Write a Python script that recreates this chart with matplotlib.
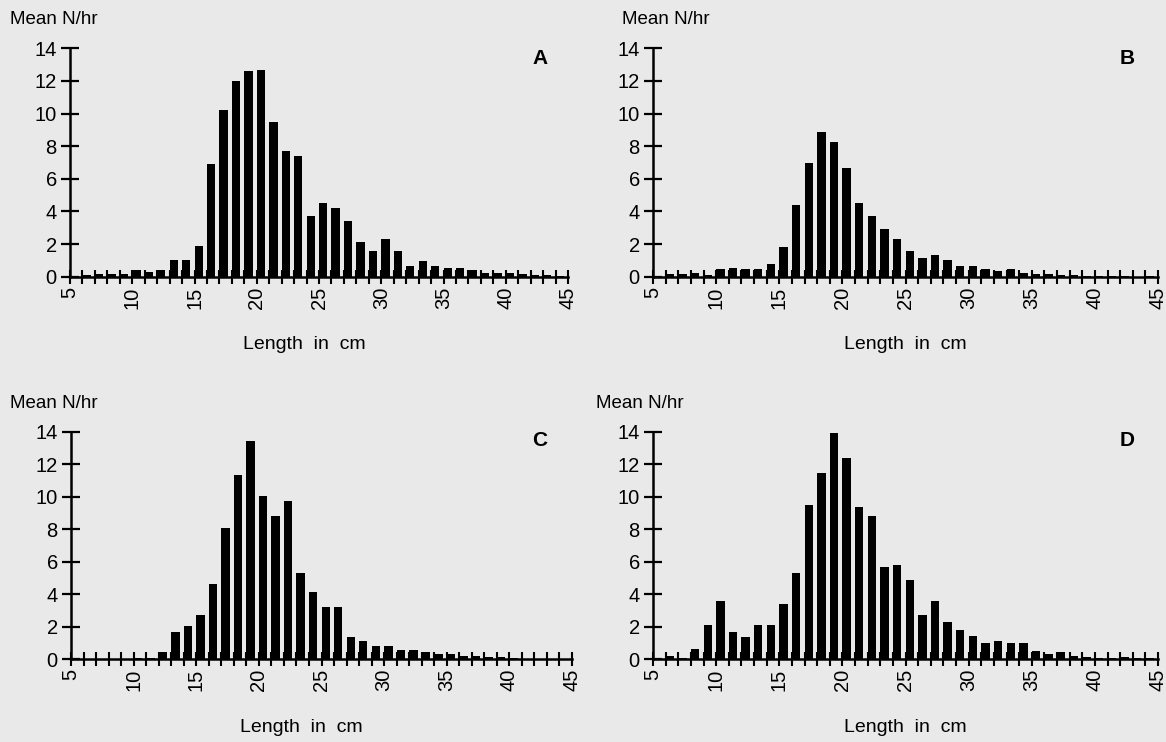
import numpy as np
import matplotlib.pyplot as plt

plt.rcParams['font.family'] = ['Liberation Sans', 'DejaVu Sans']

# length classes (cm), one bar per class
lengths = np.arange(6, 45)

catch_a = [0.1, 0.15, 0.15, 0.15, 0.4, 0.3, 0.4, 1.0, 1.0, 1.9,
           6.9, 10.2, 12.0, 12.6, 12.7, 9.5, 7.7, 7.4, 3.7, 4.5,
           4.2, 3.4, 2.1, 1.6, 2.3, 1.6, 0.65, 0.95, 0.65, 0.55,
           0.55, 0.4, 0.25, 0.2, 0.2, 0.15, 0.1, 0.1, 0.05]
catch_b = [0.15, 0.15, 0.25, 0.1, 0.45, 0.55, 0.45, 0.45, 0.8, 1.8,
           4.4, 7.0, 8.9, 8.25, 6.65, 4.5, 3.7, 2.9, 2.3, 1.6,
           1.15, 1.3, 1.0, 0.65, 0.65, 0.45, 0.35, 0.5, 0.25, 0.15,
           0.15, 0.1, 0.1, 0.05, 0.05, 0.05, 0.05, 0.0, 0.05]
catch_c = [0.0, 0.0, 0.0, 0.0, 0.1, 0.1, 0.45, 1.65, 2.05, 2.75,
           4.65, 8.1, 11.35, 13.4, 10.05, 8.8, 9.75, 5.3, 4.15, 3.2,
           3.2, 1.4, 1.1, 0.8, 0.8, 0.6, 0.6, 0.45, 0.35, 0.35,
           0.2, 0.2, 0.15, 0.15, 0.1, 0.0, 0.0, 0.0, 0.0]
catch_d = [0.2, 0.1, 0.65, 2.1, 3.6, 1.65, 1.4, 2.1, 2.1, 3.4,
           5.3, 9.5, 11.45, 13.95, 12.4, 9.35, 8.8, 5.65, 5.8, 4.9,
           2.75, 3.6, 2.3, 1.8, 1.45, 1.0, 1.15, 1.0, 1.0, 0.5,
           0.35, 0.45, 0.2, 0.15, 0.1, 0.05, 0.15, 0.05, 0.05]

panel_letters = ['A', 'B', 'C', 'D']
y_ticks = np.arange(0, 15, 2)
x_labels = np.arange(5, 46, 5)

W, H = 1166, 742
bg = '#e9e9e9'
fig = plt.figure(figsize=(W / 100, H / 100), dpi=100, facecolor=bg)

# axes boxes in pixels: left, right, y of zero, y of 14
boxes = [(70, 568, 276.7, 48.3), (653, 1158, 276.7, 48.3),
         (71, 572, 659.3, 431.7), (653, 1158, 659.3, 431.7)]
ylab_pos = [(10, 20), (622, 20), (10, 403), (596, 403)]
letter_pos = [(540, 58), (1127, 58), (540, 440), (1127, 440)]
xlab_x = [0.47, 0.5, 0.46, 0.5]

for i, vals in enumerate([catch_a, catch_b, catch_c, catch_d]):
    l, r, y0, y14 = boxes[i]
    ax = fig.add_axes([l / W, 1 - y0 / H, (r - l) / W, (y0 - y14) / H])
    ax.set_facecolor('none')
    ax.bar(lengths, vals, width=0.67, align='edge', color='black', zorder=2)
    ax.set_xlim(5, 45)
    ax.set_ylim(0, 14)
    for s in ['top', 'right']:
        ax.spines[s].set_visible(False)
    for s in ['left', 'bottom']:
        ax.spines[s].set_linewidth(1.8)
        ax.spines[s].set_zorder(3)
    ax.set_yticks(y_ticks)
    ax.set_xticks(x_labels)
    ax.set_xticks(np.arange(5, 46), minor=True)
    ax.tick_params(axis='y', direction='inout', length=13, width=1.6,
                   labelsize=14.5, pad=3)
    ax.tick_params(axis='x', which='both', direction='inout', length=10,
                   width=1.5, labelsize=14.5, pad=2, labelrotation=90)
    ax.set_xlabel('Length  in  cm', fontsize=14, va='center')
    ax.xaxis.set_label_coords(xlab_x[i], -68 / (y0 - y14))

    fig.text(ylab_pos[i][0] / W, 1 - ylab_pos[i][1] / H, 'Mean N/hr',
             fontsize=13.5, va='center', ha='left')
    fig.text(letter_pos[i][0] / W, 1 - letter_pos[i][1] / H, panel_letters[i],
             fontsize=15, fontweight='bold', va='center', ha='center')

fig.savefig('out.png', dpi=100, facecolor=bg)
